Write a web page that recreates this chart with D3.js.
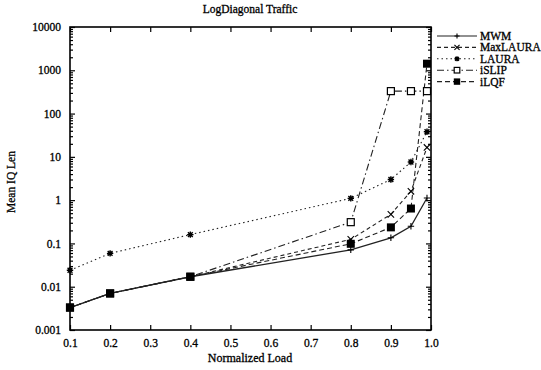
<!DOCTYPE html>
<html><head><meta charset="utf-8">
<script src="https://cdn.jsdelivr.net/npm/d3@7"></script>
<style>
body{margin:0;background:#fff;}
text{font-family:"Liberation Serif","Times New Roman",serif;fill:#000;stroke:#000;stroke-width:0.3px;}
</style></head>
<body><svg id="c" width="541" height="370"></svg>
<script>
const loads = [0.1, 0.2, 0.4, 0.8, 0.9, 0.95, 0.99];
const mwm      = [0.0033, 0.0070, 0.017, 0.071, 0.135, 0.25, 1.12];
const maxlaura = [0.0033, 0.0070, 0.017, 0.124, 0.47, 1.6, 16.5];
const laura    = [0.024, 0.059, 0.16, 1.1, 3.0, 7.6, 38];
const islip    = [0.0033, 0.0070, 0.017, 0.31, 330, 330, 330];
const ilqf     = [0.0033, 0.0070, 0.017, 0.098, 0.235, 0.64, 1420];
const seriesNames = ["MWM", "MaxLAURA", "LAURA", "iSLIP", "iLQF"];
const xTicks = [0.1,0.2,0.3,0.4,0.5,0.6,0.7,0.8,0.9,1.0];
const yTicks = [0.001,0.01,0.1,1,10,100,1000,10000];
const yTickLabels = ["0.001","0.01","0.1","1","10","100","1000","10000"];

const series = [
  {name:seriesNames[0], vals:mwm, dash:null, marker:"plus"},
  {name:seriesNames[1], vals:maxlaura, dash:"4,3", marker:"cross"},
  {name:seriesNames[2], vals:laura, dash:"1.5,3", marker:"star"},
  {name:seriesNames[3], vals:islip, dash:"7,3,1.5,3", marker:"open"},
  {name:seriesNames[4], vals:ilqf, dash:"5,3", marker:"filled"}
];

const svg = d3.select("#c");
const L=70,R=431,T=27,B=330;
const x = d3.scaleLinear().domain([0.1,1.0]).range([L,R]);
const y = d3.scaleLog().domain([0.001,10000]).range([B,T]);

svg.append("text").attr("x",250).attr("y",13).attr("text-anchor","middle")
  .attr("font-size",11.5).text("LogDiagonal Traffic");
svg.append("text").attr("x",250).attr("y",362).attr("text-anchor","middle")
  .attr("font-size",12).text("Normalized Load");
svg.append("text").attr("transform","translate(15,182) rotate(-90)").attr("text-anchor","middle")
  .attr("font-size",11.5).text("Mean IQ Len");

const g = svg.append("g");
const axB = d3.axisBottom(x).tickValues(xTicks).tickSize(-5).tickPadding(9).tickFormat(d3.format(".1f"));
const axT = d3.axisTop(x).tickValues(xTicks).tickSize(-5).tickFormat("");
const axL = d3.axisLeft(y).tickValues(yTicks).tickSize(-5).tickPadding(9).tickFormat((d,i)=>yTickLabels[i]);
const axR = d3.axisRight(y).tickValues(yTicks).tickSize(-5).tickFormat("");
const minor = [];
for (let e=-3;e<4;e++) for (let m=2;m<10;m++) minor.push(m*Math.pow(10,e));
const axLm = d3.axisLeft(y).tickValues(minor).tickSize(-3).tickFormat("");
const axRm = d3.axisRight(y).tickValues(minor).tickSize(-3).tickFormat("");

function styl(sel){
  sel.selectAll(".domain").remove();
  sel.selectAll("line").attr("stroke","#000").attr("stroke-width",1.2);
  sel.selectAll("text").attr("font-size",11.5)
     .attr("font-family","'Liberation Serif',serif");
}
g.append("g").attr("transform",`translate(0,${B})`).call(axB).call(styl);
g.append("g").attr("transform",`translate(0,${T})`).call(axT).call(styl);
g.append("g").attr("transform",`translate(${L},0)`).call(axL).call(styl);
g.append("g").attr("transform",`translate(${R},0)`).call(axR).call(styl);
g.append("g").attr("transform",`translate(${L},0)`).call(axLm).call(styl);
g.append("g").attr("transform",`translate(${R},0)`).call(axRm).call(styl);
g.append("rect").attr("x",L).attr("y",T).attr("width",R-L).attr("height",B-T)
  .attr("fill","none").attr("stroke","#000").attr("stroke-width",1.6);

const line = d3.line().x((d,i)=>x(loads[i])).y(d=>y(d));

function drawMarker(sel, type, cx, cy, k){
  k = k||1;
  const s=3.2*k;
  if(type==="plus"){
    sel.append("path").attr("d",`M${cx-s},${cy}H${cx+s}M${cx},${cy-s}V${cy+s}`).attr("stroke","#000").attr("stroke-width",1.1);
  } else if(type==="cross"){
    sel.append("path").attr("d",`M${cx-s},${cy-s}L${cx+s},${cy+s}M${cx-s},${cy+s}L${cx+s},${cy-s}`).attr("stroke","#000").attr("stroke-width",1.1);
  } else if(type==="star"){
    sel.append("path").attr("d",`M${cx-s},${cy}H${cx+s}M${cx},${cy-s}V${cy+s}M${cx-s*0.75},${cy-s*0.75}L${cx+s*0.75},${cy+s*0.75}M${cx-s*0.75},${cy+s*0.75}L${cx+s*0.75},${cy-s*0.75}`).attr("stroke","#000").attr("stroke-width",1.4);
    sel.append("circle").attr("cx",cx).attr("cy",cy).attr("r",1.8*k).attr("fill","#000");
  } else if(type==="open"){
    sel.append("rect").attr("x",cx-3.5*k).attr("y",cy-3.5*k).attr("width",7*k).attr("height",7*k).attr("fill","#fff").attr("stroke","#000").attr("stroke-width",1.2);
  } else if(type==="filled"){
    sel.append("rect").attr("x",cx-4*k).attr("y",cy-4*k).attr("width",8*k).attr("height",8*k).attr("fill","#000");
  }
}

const plot = svg.append("g");
series.forEach(s=>{
  plot.append("path").datum(s.vals).attr("d",line).attr("fill","none")
    .attr("stroke","#222").attr("stroke-width",s.marker==="plus"?1.3:1.1)
    .attr("stroke-dasharray",s.dash);
});
series.forEach(s=>{
  const mg = plot.append("g");
  s.vals.forEach((v,i)=>drawMarker(mg,s.marker,x(loads[i]),y(v)));
});

const lg = svg.append("g");
series.forEach((s,i)=>{
  const yy = 36 + i*11.4;
  lg.append("line").attr("x1",437).attr("x2",477).attr("y1",yy).attr("y2",yy)
    .attr("stroke","#222").attr("stroke-width",1.1).attr("stroke-dasharray",s.dash);
  drawMarker(lg,s.marker,457,yy,0.8);
  lg.append("text").attr("x",480).attr("y",yy+4).attr("font-size",11.5).text(s.name);
});
</script></body></html>
